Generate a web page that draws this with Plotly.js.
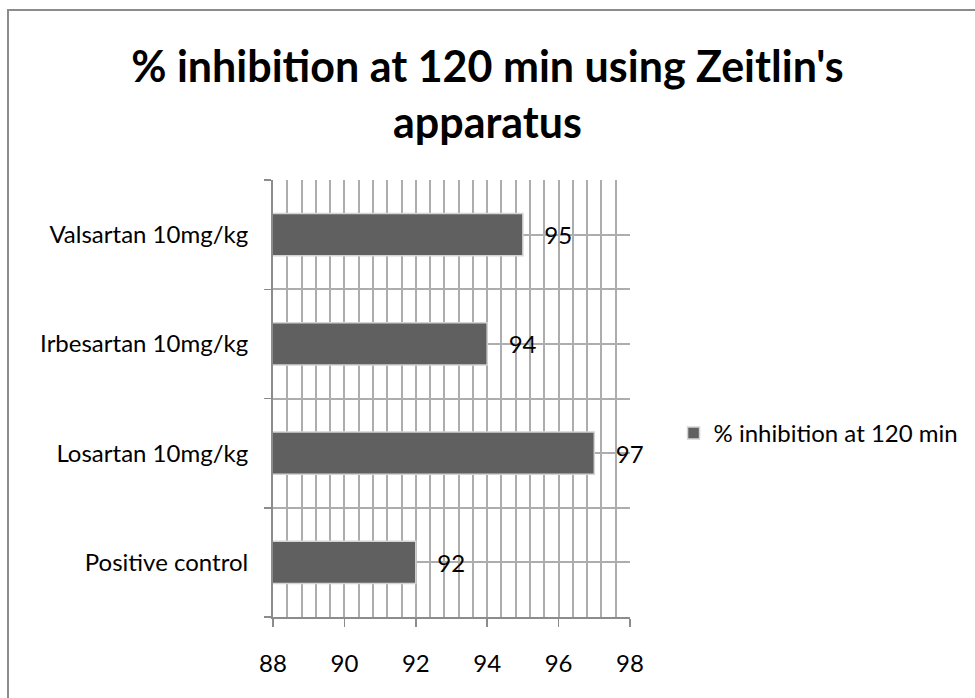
<!DOCTYPE html>
<html>
<head>
<meta charset="utf-8">
<script src="https://cdn.plot.ly/plotly-3.0.1.min.js"></script>
<style>
  html, body { margin: 0; padding: 0; background: #fff; overflow: hidden; }
  #frame { position: absolute; left: 7px; top: 9px; width: 1100px; height: 900px; border: 2px solid #8c8c8c; box-sizing: border-box; }
  #chart { position: absolute; left: 0; top: 0; width: 975px; height: 698px; }
</style>
</head>
<body>
<div id="frame"></div>
<div id="chart"></div>
<script>
const categories = ['Positive control', 'Losartan 10mg/kg', 'Irbesartan 10mg/kg', 'Valsartan 10mg/kg'];
const inhibition120 = [92, 97, 94, 95];
const seriesName = '% inhibition at 120 min';
const xTicks = [88, 90, 92, 94, 96, 98];
const titleText = "% inhibition at 120 min using Zeitlin's<br>apparatus";

const FONT = 'Lato, "Open Sans", sans-serif';
const GRID = '#adadad';
const FS = 24;

const traces = [
  {
    type: 'bar',
    orientation: 'h',
    name: seriesName,
    x: inhibition120,
    y: categories,
    marker: { color: '#606060', line: { color: '#d4d4d4', width: 1.5 } },
    text: inhibition120.map(String),
    texttemplate: '   %{text}',
    textposition: 'outside',
    cliponaxis: false,
    textfont: { family: FONT, size: FS, color: '#000' },
    hoverinfo: 'x+y'
  },
  {
    type: 'scatter',
    mode: 'markers',
    x: inhibition120,
    y: categories,
    yaxis: 'y2',
    marker: { opacity: 0 },
    showlegend: false,
    hoverinfo: 'skip'
  }
];

const layout = {
  width: 975,
  height: 698,
  paper_bgcolor: 'rgba(0,0,0,0)',
  plot_bgcolor: 'rgba(0,0,0,0)',
  margin: { l: 273, r: 343, t: 180, b: 81 },
  font: { family: FONT, size: FS, color: '#000' },
  title: {
    text: titleText,
    font: { family: FONT, size: 43, color: '#000', weight: 'bold' },
    x: 0.5, xanchor: 'center', xref: 'container',
    y: 0.882, yanchor: 'middle', yref: 'container'
  },
  bargap: 0.615,
  xaxis: {
    range: [88, 98],
    tickvals: xTicks,
    ticktext: xTicks.map(String),
    showgrid: true, gridcolor: GRID, gridwidth: 2,
    minor: { dtick: 0.4, tick0: 88, showgrid: true, gridcolor: GRID, gridwidth: 2 },
    ticks: 'outside', ticklen: 8, tickwidth: 1.5, tickcolor: '#8c8c8c',
    showline: true, linecolor: '#8c8c8c', linewidth: 2,
    ticklabelstandoff: 16,
    zeroline: false,
    tickfont: { family: FONT, size: FS, color: '#000' },
    fixedrange: true
  },
  yaxis: {
    type: 'category',
    categoryorder: 'array', categoryarray: categories,
    range: [-0.5, 3.5],
    tickson: 'boundaries',
    showgrid: true, gridcolor: GRID, gridwidth: 2,
    ticks: 'outside', ticklen: 7, tickwidth: 1.5, tickcolor: '#8c8c8c',
    showline: true, linecolor: '#8c8c8c', linewidth: 2,
    ticklabelstandoff: 18,
    tickfont: { family: FONT, size: FS, color: '#000' },
    fixedrange: true
  },
  yaxis2: {
    type: 'category',
    overlaying: 'y',
    categoryorder: 'array', categoryarray: categories,
    range: [-0.5, 3.5],
    showgrid: true, gridcolor: GRID, gridwidth: 2,
    showticklabels: false, ticks: '', showline: false,
    fixedrange: true
  },
  showlegend: true,
  legend: {
    x: 1.122, xanchor: 'left',
    y: 0.42, yanchor: 'middle',
    font: { family: FONT, size: FS, color: '#000' },
    bgcolor: 'rgba(0,0,0,0)',
    itemwidth: 30
  }
};

Plotly.newPlot('chart', traces, layout, { displayModeBar: false, staticPlot: true });
</script>
</body>
</html>
